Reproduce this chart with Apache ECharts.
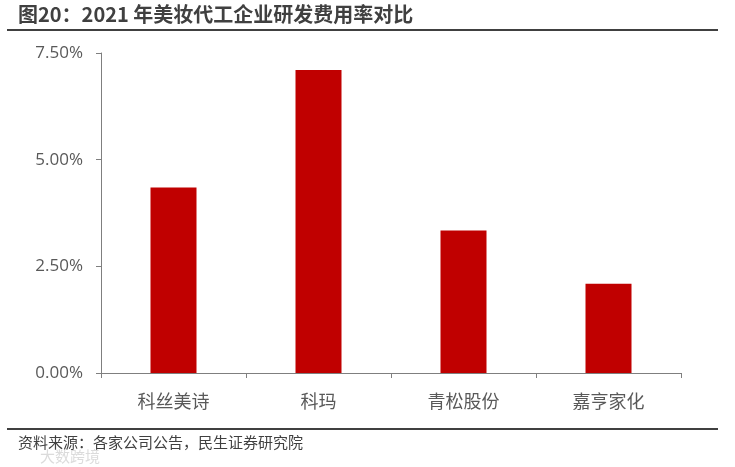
<!DOCTYPE html>
<html>
<head>
<meta charset="utf-8">
<script src="https://cdn.jsdelivr.net/npm/echarts@6/dist/echarts.min.js"></script>
<style>
html,body{margin:0;padding:0;background:#fff;}
#chart{width:735px;height:467px;}
</style>
</head>
<body>
<div id="chart"></div>
<script>
const titleText = '图20：2021 年美妆代工企业研发费用率对比';
const sourceText = '资料来源：各家公司公告，民生证券研究院';
const categories = ['科丝美诗', '科玛', '青松股份', '嘉亨家化'];
const rdRatio = [4.35, 7.10, 3.34, 2.09];
const yTicks = [0, 2.5, 5, 7.5];

const chart = echarts.init(document.getElementById('chart'), null, {renderer: 'canvas'});
const cjk = '"Microsoft YaHei", "Noto Sans CJK SC", sans-serif';
const num = '"Open Sans", "Noto Sans", sans-serif';

chart.setOption({
  backgroundColor: '#ffffff',
  animation: false,
  grid: {left: 101, right: 54, top: 53, bottom: 94, containLabel: false},
  xAxis: {
    type: 'category',
    data: categories,
    axisLine: {lineStyle: {color: '#7f7f7f', width: 1}},
    axisTick: {show: true, length: 5, lineStyle: {color: '#7f7f7f'}},
    axisLabel: {color: '#595959', fontSize: 18, fontFamily: cjk, margin: 19}
  },
  yAxis: {
    type: 'value',
    min: yTicks[0],
    max: yTicks[yTicks.length - 1],
    interval: 2.5,
    axisLine: {show: true, lineStyle: {color: '#7f7f7f', width: 1}},
    axisTick: {show: true, length: 5, lineStyle: {color: '#7f7f7f'}},
    splitLine: {show: false},
    axisLabel: {
      color: '#595959', fontSize: 17, fontFamily: num, margin: 18,
      formatter: v => v.toFixed(2) + '%'
    }
  },
  series: [{
    type: 'bar',
    data: rdRatio,
    barWidth: 46,
    itemStyle: {color: '#C00000'}
  }],
  graphic: [
    {type: 'text', left: 18, top: 4, style: {text: titleText, fill: '#404040', font: 'bold 20px ' + cjk}},
    {type: 'line', shape: {x1: 7, y1: 30, x2: 718, y2: 30}, style: {stroke: '#404040', lineWidth: 2}},
    {type: 'line', shape: {x1: 7, y1: 429, x2: 718, y2: 429}, style: {stroke: '#404040', lineWidth: 2}},
    {type: 'text', left: 18, top: 435, style: {text: sourceText, fill: '#404040', font: '15px ' + cjk}},
    {type: 'text', left: 40, top: 449, style: {text: '大数跨境', fill: 'rgba(190,190,190,0.55)', font: '15px ' + cjk}}
  ]
});
</script>
</body>
</html>
